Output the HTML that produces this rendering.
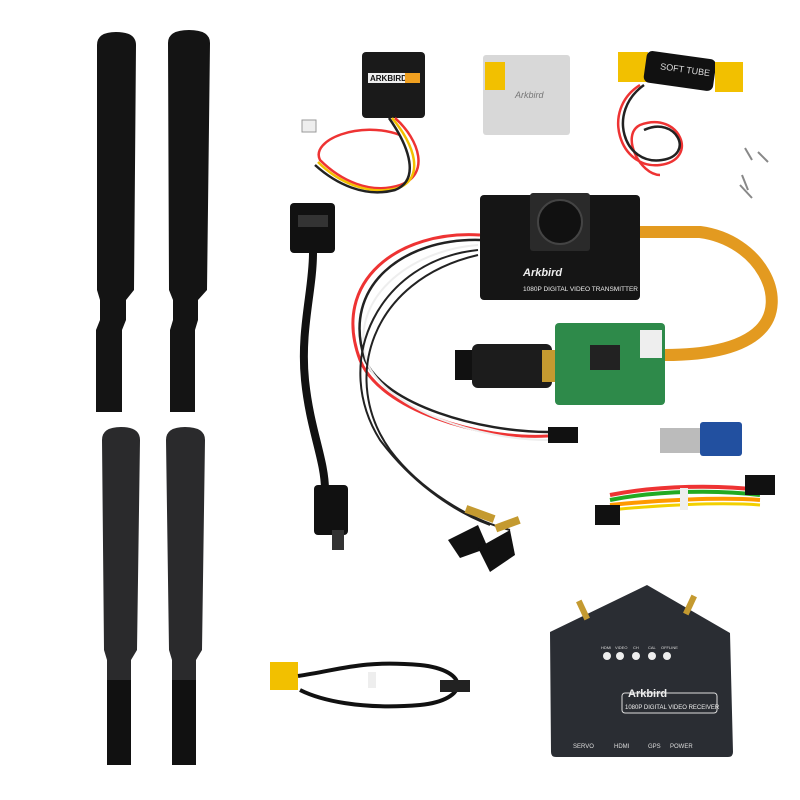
<!DOCTYPE html>
<html><head><meta charset="utf-8"><style>html,body{margin:0;padding:0;background:#fff}svg{display:block}</style></head>
<body>
<svg width="800" height="800" viewBox="0 0 800 800" xmlns="http://www.w3.org/2000/svg" font-family="Liberation Sans, sans-serif">
<rect width="800" height="800" fill="#fff"/>
<g fill="#141414">
<path d="M97 45 Q97 32 116 32 Q136 32 136 45 L134 290 L126 300 L126 320 L122 330 L122 412 L96 412 L96 330 L100 320 L100 300 L97 290 Z"/>
<path d="M168 43 Q168 30 189 30 Q210 30 210 43 L207 290 L198 300 L198 320 L195 330 L195 412 L170 412 L170 330 L173 320 L173 300 L169 290 Z"/>
</g>
<g fill="#2a2a2c">
<path d="M102 440 Q102 427 121 427 Q140 427 140 440 L137 650 L131 660 L131 765 L107 765 L107 660 L104 650 Z"/>
<path d="M166 440 Q166 427 185 427 Q205 427 205 440 L202 650 L196 660 L196 765 L172 765 L172 660 L169 650 Z"/>
</g>
<g fill="#111"><rect x="107" y="680" width="24" height="85"/><rect x="172" y="680" width="24" height="85"/></g>
<rect x="362" y="52" width="63" height="66" rx="4" fill="#1a1a1a"/>
<rect x="368" y="73" width="52" height="10" fill="#eee"/>
<text x="370" y="81" font-size="8" font-weight="bold" fill="#111">ARKBIRD</text>
<rect x="405" y="73" width="15" height="10" fill="#f0a020"/>
<path d="M395 118 C420 140 430 175 400 185 C370 195 340 180 320 160 C310 140 360 120 400 135" stroke="#e33" stroke-width="2.5" fill="none"/>
<path d="M392 118 C415 145 425 178 398 188 C368 196 338 182 318 162" stroke="#f2c000" stroke-width="2.5" fill="none"/>
<path d="M389 118 C410 148 420 180 395 190 C365 198 336 184 315 165" stroke="#222" stroke-width="2.5" fill="none"/>
<rect x="302" y="120" width="14" height="12" fill="#eee" stroke="#999"/>
<rect x="483" y="55" width="87" height="80" rx="3" fill="#d8d8d8"/>
<rect x="485" y="62" width="20" height="28" fill="#f2c000"/>
<text x="515" y="98" font-size="9" fill="#777" font-style="italic">Arkbird</text>
<rect x="618" y="52" width="30" height="30" fill="#f2c000"/>
<rect x="645" y="55" width="70" height="32" rx="6" fill="#111" transform="rotate(8 680 70)"/>
<text x="660" y="72" font-size="9" fill="#ddd" transform="rotate(8 680 70)">SOFT TUBE</text>
<rect x="715" y="62" width="28" height="30" fill="#f2c000"/>
<path d="M640 85 C600 110 620 170 660 165 C700 160 680 110 640 125 C620 135 640 175 660 175" stroke="#e33" stroke-width="2.5" fill="none"/>
<path d="M644 85 C606 112 624 166 662 160 C696 155 676 115 644 130" stroke="#222" stroke-width="2.5" fill="none"/>
<g stroke="#888" stroke-width="2"><line x1="745" y1="148" x2="752" y2="160"/><line x1="758" y1="152" x2="768" y2="162"/><line x1="742" y1="175" x2="748" y2="190"/><line x1="740" y1="185" x2="752" y2="198"/></g>
<path d="M638 232 L700 232 C760 240 790 300 760 330 C740 350 700 355 665 355" stroke="#e39a20" stroke-width="12" fill="none"/>
<rect x="480" y="195" width="160" height="105" rx="4" fill="#151515"/>
<rect x="530" y="193" width="60" height="58" rx="3" fill="#2a2a2a"/>
<circle cx="560" cy="222" r="22" fill="#111" stroke="#444" stroke-width="2"/>
<text x="523" y="276" font-size="11" font-style="italic" font-weight="bold" fill="#eee">Arkbird</text>
<text x="523" y="291" font-size="6.5" fill="#eee">1080P DIGITAL VIDEO TRANSMITTER</text>
<path d="M480 235 C400 230 330 280 360 360 C380 410 480 440 548 436" stroke="#e33" stroke-width="3" fill="none"/>
<path d="M480 240 C405 238 340 285 365 360 C385 405 480 432 548 432" stroke="#222" stroke-width="2.5" fill="none"/>
<path d="M478 245 C410 250 345 300 368 365 C390 410 480 440 548 440" stroke="#eee" stroke-width="2" fill="none"/>
<path d="M478 250 C380 260 330 360 380 440 C410 480 450 510 490 525" stroke="#222" stroke-width="2" fill="none"/>
<path d="M478 255 C370 280 340 380 390 450 C420 490 470 520 510 530" stroke="#222" stroke-width="2" fill="none"/>
<rect x="548" y="427" width="30" height="16" fill="#111"/>
<rect x="290" y="203" width="45" height="50" rx="4" fill="#111"/>
<rect x="298" y="215" width="30" height="12" fill="#333"/>
<path d="M313 253 C313 290 300 330 305 380 C310 430 325 460 325 490" stroke="#111" stroke-width="8" fill="none"/>
<rect x="314" y="485" width="34" height="50" rx="4" fill="#111"/>
<rect x="332" y="530" width="12" height="20" fill="#333"/>
<rect x="455" y="350" width="30" height="30" fill="#111"/>
<rect x="472" y="344" width="80" height="44" rx="6" fill="#1c1c1c"/>
<rect x="542" y="350" width="28" height="32" fill="#c49a30"/>
<rect x="555" y="323" width="110" height="82" rx="4" fill="#2e8a4a"/>
<rect x="640" y="330" width="22" height="28" fill="#eee"/>
<rect x="590" y="345" width="30" height="25" fill="#222"/>
<rect x="660" y="428" width="45" height="25" fill="#bbb"/>
<rect x="700" y="422" width="42" height="34" rx="3" fill="#2250a0"/>
<path d="M610 495 C660 485 720 485 760 490" stroke="#e33" stroke-width="4" fill="none"/>
<path d="M610 500 C660 490 720 490 760 495" stroke="#2a2" stroke-width="4" fill="none"/>
<path d="M610 505 C660 500 720 497 760 500" stroke="#f90" stroke-width="4" fill="none"/>
<path d="M610 510 C660 505 720 502 760 505" stroke="#f2d000" stroke-width="3" fill="none"/>
<rect x="595" y="505" width="25" height="20" fill="#111"/><rect x="745" y="475" width="30" height="20" fill="#111"/>
<rect x="680" y="488" width="8" height="22" fill="#eee"/>
<path d="M448 540 L478 525 L488 548 L460 558 Z" fill="#111"/>
<path d="M478 548 L510 530 L515 555 L490 572 Z" fill="#111"/>
<rect x="465" y="510" width="30" height="8" fill="#c49a30" transform="rotate(20 480 514)"/>
<rect x="495" y="520" width="25" height="8" fill="#c49a30" transform="rotate(-20 508 524)"/>
<path d="M550 632 L647 585 L730 633 L733 752 Q733 757 728 757 L556 757 Q551 757 551 752 Z" fill="#2a2d33"/>
<rect x="580" y="600" width="6" height="20" fill="#c49a30" transform="rotate(-25 583 610)"/>
<rect x="687" y="595" width="6" height="20" fill="#c49a30" transform="rotate(25 690 605)"/>
<g fill="#eee"><circle cx="607" cy="656" r="4"/><circle cx="620" cy="656" r="4"/><circle cx="636" cy="656" r="4"/><circle cx="652" cy="656" r="4"/><circle cx="667" cy="656" r="4"/></g>
<g font-size="4" fill="#ddd"><text x="601" y="649">HDMI</text><text x="615" y="649">VIDEO</text><text x="633" y="649">CH</text><text x="648" y="649">CAL</text><text x="661" y="649">OFFLINE</text></g>
<rect x="622" y="693" width="95" height="20" rx="3" fill="none" stroke="#ddd" stroke-width="1"/>
<text x="628" y="697" font-size="11" font-weight="bold" fill="#eee">Arkbird</text>
<text x="625" y="709" font-size="6" fill="#eee">1080P DIGITAL VIDEO RECEIVER</text>
<g font-size="6" fill="#ddd"><text x="573" y="748">SERVO</text><text x="614" y="748">HDMI</text><text x="648" y="748">GPS</text><text x="670" y="748">POWER</text></g>
<rect x="270" y="662" width="28" height="28" fill="#f2c000"/>
<path d="M298 676 C340 670 360 660 420 665 C470 670 470 700 420 705 C360 710 320 700 300 690" stroke="#111" stroke-width="4" fill="none"/>
<rect x="440" y="680" width="30" height="12" fill="#222"/>
<rect x="368" y="672" width="8" height="16" fill="#eee"/>
</svg>
</body></html>
